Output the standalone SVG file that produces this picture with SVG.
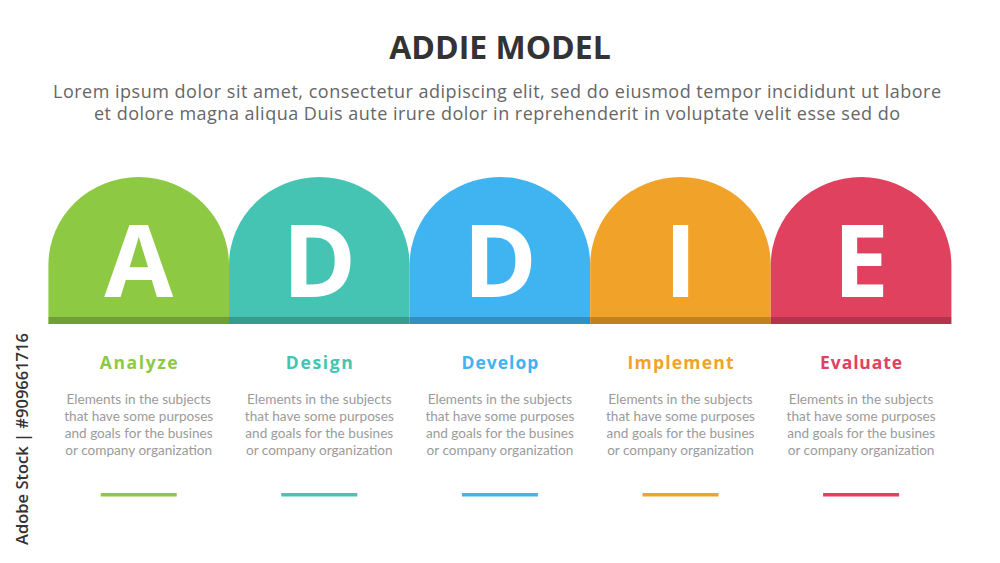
<svg xmlns="http://www.w3.org/2000/svg" width="1000" height="563" viewBox="0 0 1000 563">
<style>
.title{font-family:"Open Sans","Liberation Sans",sans-serif;font-weight:700;font-size:32px;fill:#333;text-anchor:middle}
.sub{font-family:"Open Sans","Liberation Sans",sans-serif;font-size:18px;fill:#666;text-anchor:middle}
.letter{font-family:"Open Sans","Liberation Sans",sans-serif;font-weight:700;font-size:100px;fill:#fff;text-anchor:middle}
.head{font-family:"Open Sans","Liberation Sans",sans-serif;font-weight:700;font-size:17.5px;text-anchor:middle}
.desc{font-family:Lato,"Liberation Sans",sans-serif;font-size:13.6px;fill:#9b9b9b;text-anchor:middle}
.band{fill:#000;opacity:0.2}
.wm{font-family:"Open Sans","Liberation Sans",sans-serif;font-weight:600;font-size:16.5px;fill:#333;text-anchor:middle}
</style>
<defs>
<path id="arch" d="M0,149 L0,90 A90.3,88 0 0 1 180.6,90 L180.6,149 Z"/>
</defs>
<rect width="1000" height="563" fill="#fff"/>
<text class="title" x="500" y="59">ADDIE MODEL</text>
<text class="sub" x="497" y="98" textLength="888">Lorem ipsum dolor sit amet, consectetur adipiscing elit, sed do eiusmod tempor incididunt ut labore</text>
<text class="sub" x="497" y="120" textLength="806">et dolore magna aliqua Duis aute irure dolor in reprehenderit in voluptate velit esse sed do</text>

<g id="node-analyze">
<use href="#arch" x="48.4" y="175" fill="#8DC943"/>
<rect class="band" x="48.4" y="317" width="180.6" height="7"/>
<text class="letter" x="138.7" y="297">A</text>
<text class="head" x="138.7" y="369" fill="#8DC943" textLength="78">Analyze</text>
<text class="desc"><tspan x="138.7" y="404">Elements in the subjects</tspan><tspan x="138.7" y="421">that have some purposes</tspan><tspan x="138.7" y="438">and goals for the  busines</tspan><tspan x="138.7" y="454.5">or company organization</tspan></text>
<rect x="100.7" y="493" width="76" height="3.5" fill="#8DC943"/>
</g>
<g id="node-design">
<use href="#arch" x="229" y="175" fill="#45C3B3"/>
<rect class="band" x="229" y="317" width="180.6" height="7"/>
<text class="letter" x="319.3" y="297">D</text>
<text class="head" x="319.3" y="369" fill="#45C3B3" textLength="67">Design</text>
<text class="desc"><tspan x="319.3" y="404">Elements in the subjects</tspan><tspan x="319.3" y="421">that have some purposes</tspan><tspan x="319.3" y="438">and goals for the  busines</tspan><tspan x="319.3" y="454.5">or company organization</tspan></text>
<rect x="281.3" y="493" width="76" height="3.5" fill="#45C3B3"/>
</g>
<g id="node-develop">
<use href="#arch" x="409.6" y="175" fill="#40B3F1"/>
<rect class="band" x="409.6" y="317" width="180.6" height="7"/>
<text class="letter" x="499.9" y="297">D</text>
<text class="head" x="499.9" y="369" fill="#40B3F1" textLength="77">Develop</text>
<text class="desc"><tspan x="499.9" y="404">Elements in the subjects</tspan><tspan x="499.9" y="421">that have some purposes</tspan><tspan x="499.9" y="438">and goals for the  busines</tspan><tspan x="499.9" y="454.5">or company organization</tspan></text>
<rect x="461.9" y="493" width="76" height="3.5" fill="#40B3F1"/>
</g>
<g id="node-implement">
<use href="#arch" x="590.2" y="175" fill="#F1A229"/>
<rect class="band" x="590.2" y="317" width="180.6" height="7"/>
<text class="letter" x="680.5" y="297">I</text>
<text class="head" x="680.5" y="369" fill="#F1A229" textLength="106">Implement</text>
<text class="desc"><tspan x="680.5" y="404">Elements in the subjects</tspan><tspan x="680.5" y="421">that have some purposes</tspan><tspan x="680.5" y="438">and goals for the  busines</tspan><tspan x="680.5" y="454.5">or company organization</tspan></text>
<rect x="642.5" y="493" width="76" height="3.5" fill="#F1A229"/>
</g>
<g id="node-evaluate">
<use href="#arch" x="770.8" y="175" fill="#E0415E"/>
<rect class="band" x="770.8" y="317" width="180.6" height="7"/>
<text class="letter" x="861.1" y="297">E</text>
<text class="head" x="861.1" y="369" fill="#E0415E" textLength="82">Evaluate</text>
<text class="desc"><tspan x="861.1" y="404">Elements in the subjects</tspan><tspan x="861.1" y="421">that have some purposes</tspan><tspan x="861.1" y="438">and goals for the  busines</tspan><tspan x="861.1" y="454.5">or company organization</tspan></text>
<rect x="823.1" y="493" width="76" height="3.5" fill="#E0415E"/>
</g>
<g id="connectors"></g>
<text class="wm" transform="translate(28,439) rotate(-90)">Adobe Stock | #909661716</text>
</svg>
